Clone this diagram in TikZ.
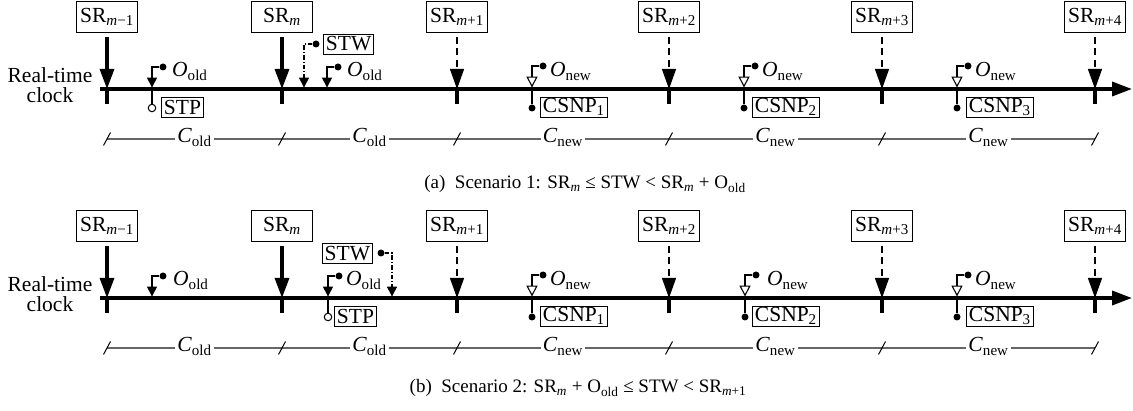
\documentclass[tikz,border=0pt]{standalone}
\usepackage{fontspec}
\setmainfont{Liberation Serif}
\usetikzlibrary{arrows.meta,calc}
\newcommand{\sbs}[1]{\textsubscript{#1}}
% #1 name, #2 x, #3 y of top, #4 tip style, #5 subscript, #6 label offset
\newcommand{\MarkO}[6]{%
  \node[dot] (#1d) at (#2+11,#3) {};
  \coordinate (#1c) at (#2,#3);
  \coordinate (#1t) at (#2,87.6);
  \draw[mk,#4] (#1d) -- (#1c) -- (#1t);
  \node[anchor=base west,inner sep=0pt] (#1l) at (#2+#6,77) {\textit{O}\sbs{#5}};
}
% #1 name, #2 x, #3 end style, #4 box text, #5 box offset
\newcommand{\MarkB}[5]{%
  \coordinate (#1a) at (#2,90);
  \node[#3] (#1e) at (#2,108) {};
  \draw[mk] (#1a) -- (#1e);
  \node[smallbox,anchor=west] (#1b) at (#2+#5,107) {#4};
}
\begin{document}
\begin{tikzpicture}[x=1pt,y=-1pt,
  every node/.style={font=\fontsize{21.5}{19.5}\selectfont},
  capfont/.style={font=\fontsize{19}{21}\selectfont},
  srbox/.style={draw,line width=0.9pt,minimum width=61pt,minimum height=31pt,inner sep=2pt},
  smallbox/.style={draw,line width=0.9pt,inner xsep=2.5pt,inner ysep=1pt,minimum height=20pt},
  timeline/.style={line width=3.4pt,-{Triangle[length=20pt,width=14pt]}},
  srsolid/.style={line width=3.2pt,-{Triangle[length=20pt,width=14pt]},shorten <=4pt},
  srdash/.style={line width=1.2pt,dash pattern=on 7pt off 4.5pt,-{Triangle[length=20pt,width=14pt]},shorten <=4pt},
  tick/.style={line width=3.2pt},
  mk/.style={line width=1.1pt},
  filledtip/.style={-{Triangle[length=10pt,width=10pt]}},
  opentip/.style={-{Triangle[open,length=11pt,width=11pt,fill=white]}},
  dot/.style={circle,fill,inner sep=0pt,minimum size=7pt},
  hollow/.style={circle,draw,fill=white,line width=1pt,inner sep=0pt,minimum size=7.5pt},
  dimline/.style={line width=1.1pt,black!60},
  dimtick/.style={line width=1pt},
  clab/.style={fill=white,inner xsep=2pt,inner ysep=1pt,anchor=base},
  dashdot/.style={dash pattern=on 4.5pt off 2pt on 1.2pt off 2pt}
]
\useasboundingbox (0,0) rectangle (1133,411);
\foreach \s/\yo in {a/0,b/209}{
\begin{scope}[yshift=-\yo pt]
  \coordinate (\s-t0) at (100,89);
  \coordinate (\s-t1) at (1132,89);
  \draw[timeline] (\s-t0) -- (\s-t1);
  \node[align=center] (\s-rt) at (50,85) {Real-time\\clock};
  \foreach \i/\x/\lab/\st in {0/107/{\textit{m}−1}/srsolid,1/282/{\textit{m}}/srsolid,2/457/{\textit{m}+1}/srdash,3/669/{\textit{m}+2}/srdash,4/882/{\textit{m}+3}/srdash,5/1095/{\textit{m}+4}/srdash}{
    \node[srbox] (\s-sr\i) at (\x,17) {SR\sbs{\lab}};
    \coordinate (\s-tk\i) at (\x,89);
    \coordinate (\s-tb\i) at (\x,104);
    \coordinate (\s-d\i) at (\x,139);
    \draw[\st] (\s-sr\i) -- (\s-tk\i);
    \draw[tick] (\s-tk\i) -- (\s-tb\i);
  }
  \draw[dimline] (\s-d0) -- (\s-d5);
  \foreach \i in {0,...,5}{
    \draw[dimtick] (\s-d\i) ++(-3.5,6.5) -- ++(7,-13);
  }
  \foreach \i/\j/\sub in {0/1/old,1/2/old,2/3/new,3/4/new,4/5/new}{
    \node[clab,yshift=-4pt] (\s-c\i) at ($(\s-d\i)!0.5!(\s-d\j)$) {\textit{C}\sbs{\sub}};
  }
\end{scope}
}
% ---------- scenario (a)
\MarkO{a-o1}{152}{67}{filledtip}{old}{20}
\MarkB{a-stp}{152}{hollow}{STP}{9}
\MarkO{a-o2}{327}{67}{filledtip}{old}{20}
\node[smallbox,anchor=west] (a-stw) at (323,44) {STW};
\node[dot] (a-stwd) at (316,44) {};
\coordinate (a-stwc) at (304,44);
\coordinate (a-stwt) at (304,87.6);
\draw[mk,dashdot,filledtip] (a-stwd) -- (a-stwc) -- (a-stwt);
\MarkO{a-n1}{532}{66}{opentip}{new}{18}
\MarkB{a-c1}{532}{dot}{CSNP\sbs{1}}{8}
\MarkO{a-n2}{744}{66}{opentip}{new}{18}
\MarkB{a-c2}{744}{dot}{CSNP\sbs{2}}{8}
\MarkO{a-n3}{957}{66}{opentip}{new}{18}
\MarkB{a-c3}{957}{dot}{CSNP\sbs{3}}{9}
\node[capfont,anchor=base] (capa) at (585,189) {(a)\enspace Scenario 1: SR\sbs{\textit{m}} ≤ STW < SR\sbs{\textit{m}} + O\sbs{old}};
% ---------- scenario (b)
\begin{scope}[yshift=-209pt]
\MarkO{b-o1}{152}{67}{filledtip}{old}{21}
\MarkO{b-o2}{328}{67}{filledtip}{old}{18}
\MarkB{b-stp}{328}{hollow}{STP}{6}
\node[smallbox,anchor=east] (b-stw) at (373,44.5) {STW};
\node[dot] (b-stwd) at (381,44) {};
\coordinate (b-stwc) at (392,44);
\coordinate (b-stwt) at (392,87.6);
\draw[mk,dashdot,filledtip] (b-stwd) -- (b-stwc) -- (b-stwt);
\MarkO{b-n1}{532}{66}{opentip}{new}{18}
\MarkB{b-c1}{532}{dot}{CSNP\sbs{1}}{8}
\MarkO{b-n2}{745}{66}{opentip}{new}{22}
\MarkB{b-c2}{745}{dot}{CSNP\sbs{2}}{7}
\MarkO{b-n3}{957}{66}{opentip}{new}{18}
\MarkB{b-c3}{957}{dot}{CSNP\sbs{3}}{9}
\end{scope}
\node[capfont,anchor=base] (capb) at (578,393) {(b)\enspace Scenario 2: SR\sbs{\textit{m}} + O\sbs{old} ≤ STW < SR\sbs{\textit{m}+1}};
\end{tikzpicture}
\end{document}
